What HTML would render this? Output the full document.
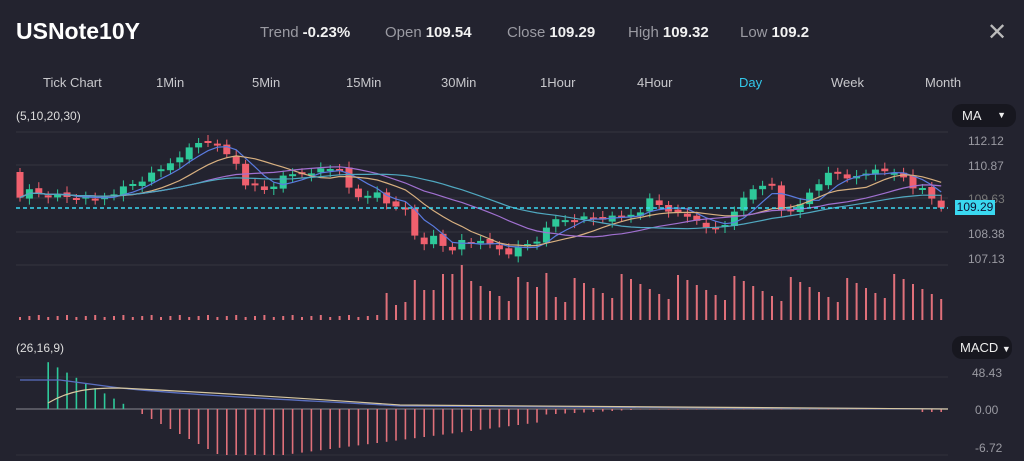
<!DOCTYPE html>
<html><head><meta charset="utf-8"><style>
body{margin:0;background:#23232f;width:1024px;height:461px;overflow:hidden;font-family:"Liberation Sans",sans-serif;color:#ddd;position:relative}
.a{position:absolute;white-space:nowrap}
.t{font-size:13px;color:#c8c8cc;top:75px}
.s{font-size:15px;top:24px;color:#9a9aa2}
.s b{color:#f2f2f2;font-weight:bold;margin-left:4px}
.ax{font-size:12px;color:#9a9aa2;left:968px}
.btn{background:#17171f;border-radius:10px;font-size:13px;color:#eee;padding:4px 10px}
</style></head><body>
<div class="a" style="left:16px;top:18px;font-size:23px;font-weight:bold;color:#fff">USNote10Y</div>
<div class="a s" style="left:260px">Trend<b>-0.23%</b></div>
<div class="a s" style="left:385px">Open<b>109.54</b></div>
<div class="a s" style="left:507px">Close<b>109.29</b></div>
<div class="a s" style="left:628px">High<b>109.32</b></div>
<div class="a s" style="left:740px">Low<b>109.2</b></div>
<div class="a" style="left:987px;top:18px;font-size:24px;color:#bbb">✕</div>
<div class="a t" style="left:43px">Tick Chart</div>
<div class="a t" style="left:156px">1Min</div>
<div class="a t" style="left:252px">5Min</div>
<div class="a t" style="left:346px">15Min</div>
<div class="a t" style="left:441px">30Min</div>
<div class="a t" style="left:540px">1Hour</div>
<div class="a t" style="left:637px">4Hour</div>
<div class="a t" style="left:739px;color:#33c8ea">Day</div>
<div class="a t" style="left:831px">Week</div>
<div class="a t" style="left:925px">Month</div>
<div class="a" style="left:16px;top:109px;font-size:12px;color:#ddd">(5,10,20,30)</div>
<div class="a" style="left:16px;top:341px;font-size:12px;color:#ddd">(26,16,9)</div>
<div class="a btn" style="left:952px;top:104px;width:44px">MA <span style="float:right;font-size:9px;margin-top:2px">▼</span></div>
<div class="a btn" style="left:952px;top:336px;width:44px;padding:4px 8px">MACD <span style="font-size:9px">▼</span></div>
<svg class="a" style="left:0;top:0" width="1024" height="461" id="sv"></svg>
<div class="a ax" style="top:134px">112.12</div>
<div class="a ax" style="top:159px">110.87</div>
<div class="a ax" style="top:192px;color:#777">109.63</div>
<div class="a" style="left:955px;top:200px;width:40px;height:15px;background:#3ad8f0;color:#113;font-size:12px;text-align:center;line-height:15px">109.29</div>
<div class="a ax" style="top:227px">108.38</div>
<div class="a ax" style="top:252px">107.13</div>
<div class="a ax" style="top:366px;left:972px">48.43</div>
<div class="a ax" style="top:403px;left:975px">0.00</div>
<div class="a ax" style="top:441px;left:975px">-6.72</div>
<script>
var sv=document.getElementById('sv'),h='';
function L(x1,y1,x2,y2,c,w,d){h+='<line x1="'+x1+'" y1="'+y1+'" x2="'+x2+'" y2="'+y2+'" stroke="'+c+'" stroke-width="'+(w||1)+'"'+(d?' stroke-dasharray="'+d+'"':'')+'/>';}
[132,165,198,232,265].forEach(function(y){L(16,y,948,y,'#34343f')});
L(16,377,948,377,'#30303b');L(16,455,948,455,'#30303b');
var kp=[[0,200],[1,190],[3,195],[5,197],[8,200],[10,192],[13,180],[15,170],[17,155],[19,143],[20,141],[21,148],[22,155],[23,163],[24,183],[25,187],[26,190],[27,185],[28,178],[30,172],[32,170],[34,168],[35,190],[36,198],[37,195],[38,190],[39,205],[41,208],[42,238],[43,245],[44,235],[46,252],[47,240],[50,245],[52,252],[53,248],[55,240],[56,230],[57,220],[60,218],[64,218],[66,210],[67,200],[68,205],[70,215],[72,220],[74,230],[75,225],[76,210],[77,200],[78,190],[79,185],[80,182],[81,212],[82,210],[84,195],[85,185],[86,172],[87,170],[88,180],[90,172],[93,172],[94,175],[95,190],[96,188],[97,197],[98,210]];
var N=99,c=[];
for(var k=0;k<kp.length-1;k++){var a=kp[k],b=kp[k+1];for(var i=a[0];i<b[0];i++)c[i]=a[1]+(b[1]-a[1])*(i-a[0])/(b[0]-a[0]);}
c[98]=210;
for(var i=0;i<N;i++)c[i]+=((i*37)%7-3)*0.8;
var X=function(i){return 20+i*9.4};
function ma(n,col){var p='';for(var i=0;i<N;i++){var s=0,m=0;for(var j=Math.max(0,i-n+1);j<=i;j++){s+=c[j];m++}p+=(i?'L':'M')+X(i).toFixed(1)+' '+(s/m).toFixed(1)}h+='<path d="'+p+'" fill="none" stroke="'+col+'" stroke-width="1.2"/>';}
// candles
for(var i=0;i<N;i++){var o=i?c[i-1]+((i*13)%5-2):172,cl=c[i];var up=cl<o;var col=up?'#2ec99a':'#f0606e';var t=Math.min(o,cl),bh=Math.max(2,Math.abs(o-cl));L(X(i),t-4-(i%3),X(i),t+bh+4+(i%2)*2,col);h+='<rect x="'+(X(i)-3.5)+'" y="'+t+'" width="7" height="'+bh+'" fill="'+col+'"/>';}
ma(5,'#5a7be0');ma(10,'#d8b080');ma(20,'#a070d0');ma(30,'#50a8c0');
L(16,208,948,208,'#3ad8f0',1.6,'4 3');
// volume
for(var i=0;i<N;i++){var v=i<39?3+(i%3):i<42?15+i%5*3:18+((i*53)%29);if(i==47)v=55;if(i==45||i==46)v=46;if(i==56)v=47;if(i==43)v=30;var col='#e0707a';L(X(i),320-v,X(i),320,col,2);}
// macd
L(16,409,948,409,'#8a8a90',1);
for(var i=3;i<12;i++){var v=(12-i)*5.2;L(X(i),409-v,X(i),409,'#2ec99a',1.6);}
for(var i=13;i<N;i++){var v;if(i<22)v=(i-12)*5;else if(i<29)v=46;else v=Math.max(1,46-(i-28)*1.2);if(i>55)v=Math.max(0.5,6-(i-55)*0.5);if(i>95)v=3;L(X(i),409,X(i),409+v,'#e0707a',1.6);}
h+='<path d="M20 380 L60 380 L120 388 C200 396 300 400 400 406 L948 409" fill="none" stroke="#5a6fc0" stroke-width="1.3"/>';
h+='<path d="M48 403 C70 390 90 388 120 388 C200 392 300 398 400 405 L948 409" fill="none" stroke="#d8c8a0" stroke-width="1.2"/>';
sv.innerHTML=h;
</script>
</body></html>
